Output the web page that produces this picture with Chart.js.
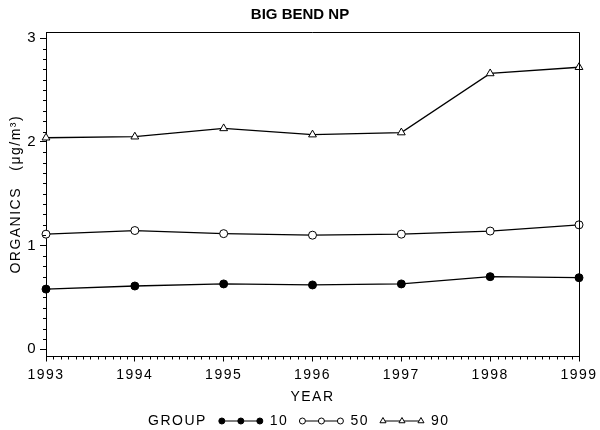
<!DOCTYPE html>
<html>
<head>
<meta charset="utf-8">
<script src="https://cdn.jsdelivr.net/npm/chart.js@4/dist/chart.umd.min.js"></script>
<style>
  html, body { margin: 0; padding: 0; background: #fff; }
  #wrap { width: 600px; height: 430px; }
</style>
</head>
<body>
<div id="wrap"><canvas id="chart"></canvas></div>
<script>
// Data
const years = [1993, 1994, 1995, 1996, 1997, 1998, 1999];
const group10 = [0.58, 0.61, 0.63, 0.62, 0.63, 0.70, 0.69];
const group50 = [1.11, 1.145, 1.115, 1.10, 1.11, 1.14, 1.20];
const group90 = [2.04, 2.05, 2.13, 2.07, 2.09, 2.66, 2.72];
const yTicks = [0, 1, 2, 3];
const chartTitle = 'BIG BEND NP';
const xTitle = 'YEAR';
const yTitle = 'ORGANICS   (\u03BCg/m\u00B3)';
const legendTitle = 'GROUP';

const FONT = "'Liberation Sans', Arial, sans-serif";
const SPACING = '1.5px';

const toPoints = vals => vals.map((v, i) => ({ x: years[i], y: v }));

// frame, minor ticks, title and the inline legend
const decor = {
  id: 'decor',
  beforeDraw(chart) {
    chart.ctx.letterSpacing = SPACING;
  },
  afterDraw(chart) {
    const ctx = chart.ctx;
    const a = chart.chartArea;
    const xs = chart.scales.x, ys = chart.scales.y;
    ctx.save();
    ctx.strokeStyle = '#000';
    ctx.lineWidth = 1;
    ctx.beginPath();
    ctx.moveTo(a.left, a.top + 0.5);
    ctx.lineTo(a.right + 0.5, a.top + 0.5);
    ctx.lineTo(a.right + 0.5, a.bottom);
    ctx.stroke();

    // minor ticks
    ctx.beginPath();
    for (let v = 0; v <= 30; v++) {
      if (v % 10 === 0) continue;
      const py = Math.round(ys.getPixelForValue(v / 10)) + 0.5;
      ctx.moveTo(a.left - 3, py);
      ctx.lineTo(a.left, py);
    }
    for (let m = 0; m <= (years.length - 1) * 12; m++) {
      if (m % 12 === 0) continue;
      const px = Math.round(xs.getPixelForValue(years[0] + m / 12)) + 0.5;
      ctx.moveTo(px, a.bottom);
      ctx.lineTo(px, a.bottom + 3);
    }
    ctx.stroke();

    // title
    ctx.letterSpacing = '0px';
    ctx.fillStyle = '#000';
    ctx.font = "bold 15px 'Liberation Sans', Arial, sans-serif";
    ctx.textAlign = 'center';
    ctx.textBaseline = 'middle';
    ctx.fillText(chartTitle, 300, 15);

    // legend
    ctx.letterSpacing = SPACING;
    ctx.font = '14px ' + FONT;
    ctx.textAlign = 'left';
    const ly = 421;
    ctx.fillText(legendTitle, 148, ly);
    let x0 = 148 + ctx.measureText(legendTitle).width + 15;
    chart.data.datasets.forEach(ds => {
      ctx.strokeStyle = '#000';
      ctx.lineWidth = 1.2;
      ctx.beginPath();
      ctx.moveTo(x0, ly);
      ctx.lineTo(x0 + 38, ly);
      ctx.stroke();
      for (let k = 0; k < 3; k++) {
        ctx.fillStyle = ds.pointBackgroundColor;
        ctx.strokeStyle = '#000';
        ctx.lineWidth = 1;
        Chart.helpers.drawPoint(ctx, {
          pointStyle: ds.pointStyle, rotation: 0,
          radius: ds.pointRadius - 1, borderWidth: 1
        }, x0 + k * 19, ly);
      }
      ctx.fillStyle = '#000';
      ctx.fillText(ds.label, x0 + 48, ly);
      x0 = x0 + 48 + ctx.measureText(ds.label).width + 14;
    });
    ctx.restore();
  }
};

function series(label, vals, style, fill, radius) {
  return {
    label: label,
    data: toPoints(vals),
    borderColor: '#000',
    borderWidth: 1.3,
    pointStyle: style,
    pointRadius: radius,
    pointHoverRadius: radius,
    pointBackgroundColor: fill,
    pointBorderColor: '#000',
    pointBorderWidth: 1,
    tension: 0,
    clip: false
  };
}

new Chart(document.getElementById('chart'), {
  type: 'line',
  data: {
    datasets: [
      series('10', group10, 'circle', '#000', 4),
      series('50', group50, 'circle', '#fff', 4),
      series('90', group90, 'triangle', '#fff', 4.5)
    ]
  },
  options: {
    responsive: true,
    maintainAspectRatio: false,
    animation: false,
    layout: { padding: { top: 32, right: 21, bottom: 20, left: 0 } },
    plugins: {
      legend: { display: false },
      title: { display: false },
      tooltip: { enabled: false }
    },
    scales: {
      x: {
        type: 'linear',
        min: years[0],
        max: years[years.length - 1],
        afterBuildTicks: s => { s.ticks = years.map(v => ({ value: v })); },
        afterFit: s => { s.height = 53.5; },
        grid: { drawOnChartArea: false, tickLength: 5, tickColor: '#000', color: '#000' },
        border: { color: '#000', width: 1 },
        ticks: {
          color: '#000',
          padding: 5,
          maxRotation: 0,
          autoSkip: false,
          font: { family: FONT, size: 14 },
          callback: v => String(v)
        },
        title: {
          display: true,
          text: xTitle,
          color: '#000',
          padding: { top: 4, bottom: 4 },
          font: { family: FONT, size: 14 }
        }
      },
      y: {
        min: -0.07,
        max: 3.06,
        afterBuildTicks: s => { s.ticks = yTicks.map(v => ({ value: v })); },
        afterFit: s => { s.width = 46; },
        grid: { drawOnChartArea: false, tickLength: 6, tickColor: '#000', color: '#000' },
        border: { color: '#000', width: 1 },
        ticks: {
          color: '#000',
          padding: 3,
          font: { family: FONT, size: 15 },
          callback: v => String(v)
        },
        title: {
          display: true,
          text: yTitle,
          color: '#000',
          padding: { top: 8, bottom: 0 },
          font: { family: FONT, size: 14 }
        }
      }
    }
  },
  plugins: [decor]
});
</script>
</body>
</html>
